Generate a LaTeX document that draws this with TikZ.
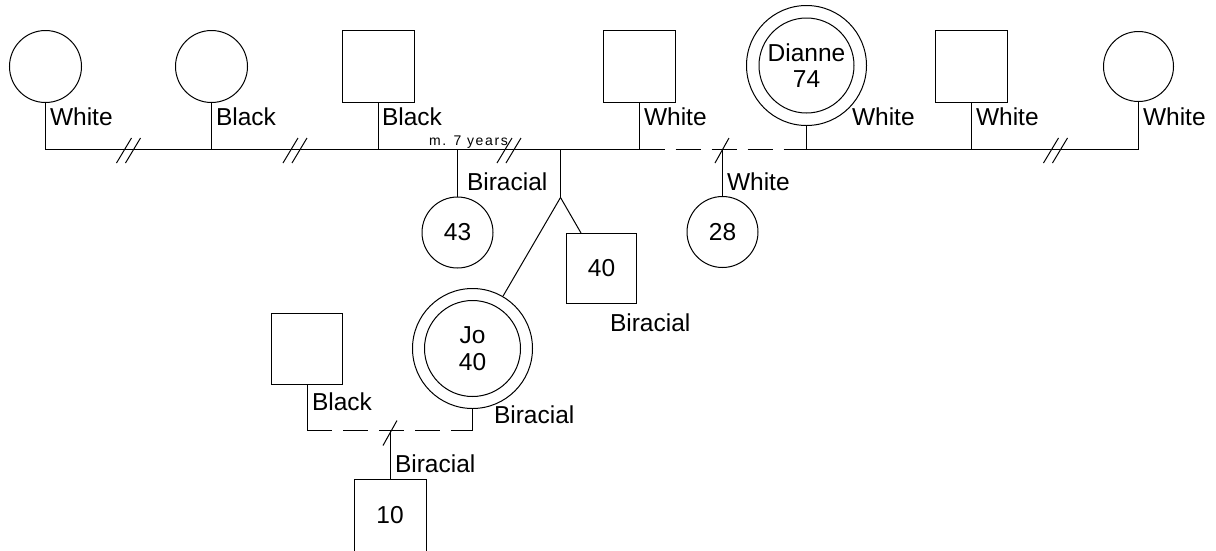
\documentclass[tikz,border=0pt]{standalone}
\usepackage{fontspec}
\setmainfont{Liberation Sans}
\newfontfamily\smallfont[LetterSpace=12]{Liberation Sans}
\begin{document}
\begin{tikzpicture}[x=1pt,y=-1pt, line width=1pt,
  every node/.style={font=\fontsize{24.5}{26.5}\selectfont},
  fem/.style={circle, draw, minimum size=72pt, inner sep=0pt},
  mal/.style={rectangle, draw, minimum size=72pt, inner sep=0pt},
  lbl/.style={anchor=base west, inner sep=0pt},
  proband/.style={circle, draw, minimum size=120pt, inner sep=0pt, align=center},
  sepline/.style={dash pattern=on 25pt off 11pt},
  divorcemark/.pic={\draw (-12,13) -- (3,-12); \draw (-3,13) -- (12,-12);},
  sepmark/.pic={\draw (-7,13) -- (7,-12);},
]
\useasboundingbox (0,0) rectangle (1216,550);
\begin{scope}[shift={(0.5,0.5)}]
% top generation
\node[fem] (c1) at (45,66) {};
\node[fem] (c2) at (211,66) {};
\node[mal] (s1) at (377.5,66) {};
\node[mal] (s2) at (639,66) {};
\node[proband] (di) at (806,65) {Dianne\\74};
\draw (di.center) circle (47.5pt);
\node[mal] (s3) at (971,66) {};
\node[fem, minimum size=70pt] (c3) at (1138,66) {};

% junctions on the line
\coordinate (m1) at (45,149);
\coordinate (m2) at (211,149);
\coordinate (m3) at (377.5,149);
\coordinate (ma) at (457,149);
\coordinate (mb) at (560,149);
\coordinate (m4) at (639,149);
\coordinate (mc) at (722,149);
\coordinate (m5) at (806,149);
\coordinate (m6) at (971,149);
\coordinate (m7) at (1138,149);

\draw (c1) -- (m1);
\draw (c2) -- (m2);
\draw (s1) -- (m3);
\draw (s2) -- (m4);
\draw (di) -- (m5);
\draw (s3) -- (m6);
\draw (c3) -- (m7);

\draw (m1) -- (m2) -- (m3) -- (ma) -- (mb) -- (m4);
\draw[sepline] (m4) -- (m5);
\draw (m5) -- (m6) -- (m7);

\pic at (128,149.5) {divorcemark};
\pic at (294.5,149.5) {divorcemark};
\pic at (508.5,149.5) {divorcemark};
\pic at (1055,149.5) {divorcemark};
\pic at (721.5,149.5) {sepmark};

\node[lbl, font={\smallfont\fontsize{14}{16}\selectfont}] (mnote) at (428,145) {m. 7 years};

% top labels
\node[lbl] (l1) at (49,125) {White};
\node[lbl] (l2) at (215,125) {Black};
\node[lbl] (l3) at (381,125) {Black};
\node[lbl] (l4) at (643,125) {White};
\node[lbl] (l5) at (851,125) {White};
\node[lbl] (l6) at (975,125) {White};
\node[lbl] (l7) at (1142,125) {White};

% children
\node[fem, minimum size=71pt] (k43) at (457,232) {43};
\draw (ma) -- (k43);
\node[lbl] (l8) at (466,190) {Biracial};

\coordinate (tw) at (560,197);
\draw (mb) -- (tw);
\node[mal, minimum size=70pt] (k40) at (601,268) {40};
\draw (tw) -- (k40);
\node[lbl] (l9) at (609,331) {Biracial};

\node[proband] (jo) at (472,348) {Jo\\40};
\draw (jo.center) circle (48pt);
\draw (tw) -- (jo);
\node[lbl] (l10) at (493,423) {Biracial};

\node[fem, minimum size=71pt] (k28) at (722,231.5) {28};
\draw (mc) -- (k28);
\node[lbl] (l11) at (726,190) {White};

% bottom family
\node[mal, minimum size=71pt] (sb) at (306.5,348.5) {};
\node[lbl] (l12) at (311,410) {Black};
\coordinate (b1) at (306.5,430);
\coordinate (b2) at (472,430);
\coordinate (bc) at (389.5,430);
\draw (sb) -- (b1);
\draw[sepline] (b1) -- (b2);
\draw (b2) -- (jo);
\pic at (389.5,432) {sepmark};

\node[mal] (k10) at (389.5,515) {10};
\draw (bc) -- (k10);
\node[lbl] (l13) at (394,472) {Biracial};
\end{scope}
\end{tikzpicture}
\end{document}
